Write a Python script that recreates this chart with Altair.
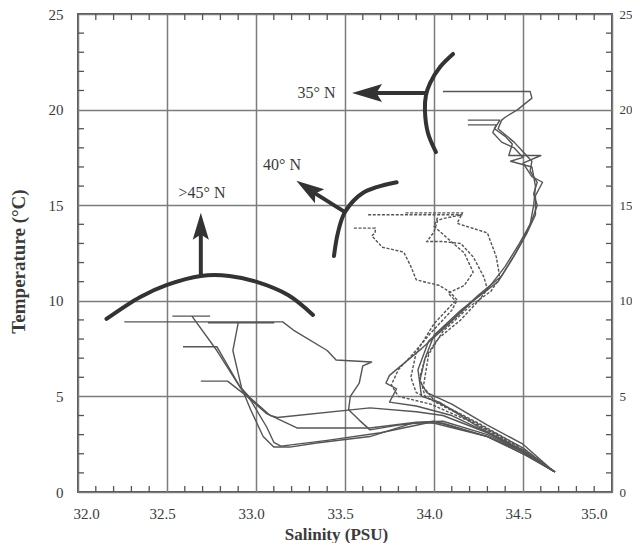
import altair as alt
import pandas as pd

SERIF = "Liberation Serif"
INK = "#3a3a3a"
LINE = "#555555"

# ---------------- axis values ----------------
x_major = [32.0, 32.5, 33.0, 33.5, 34.0, 34.5, 35.0]
y_major = [0, 5, 10, 15, 20, 25]
x_minor = [32.1, 32.2, 32.3, 32.4, 32.6, 32.7, 32.8, 32.9, 33.1, 33.2, 33.3, 33.4,
           33.6, 33.7, 33.8, 33.9, 34.1, 34.2, 34.3, 34.4, 34.6, 34.7, 34.8, 34.9]
y_minor = [1, 2, 3, 4, 6, 7, 8, 9, 11, 12, 13, 14, 16, 17, 18, 19, 21, 22, 23, 24]

# ---------------- T-S profiles (salinity, temperature) ----------------
# ~35 N
p1_s = [34.05, 34.54, 34.55, 34.47, 34.40, 34.38, 34.36, 34.45, 34.50, 34.55, 34.54, 34.58, 34.56, 34.58,
        34.55, 34.50, 34.44, 34.36, 34.22, 34.05, 33.93, 33.75, 33.73, 33.79, 33.75, 33.90, 34.10, 34.30, 34.50, 34.68]
p1_t = [20.95, 20.95, 20.6, 20.0, 19.6, 19.45, 19.0, 18.3, 17.8, 17.3, 16.8, 16.2, 15.6, 15.0,
        14.2, 13.2, 12.2, 11.0, 10.0, 8.5, 7.5, 6.1, 5.7, 5.4, 4.7, 4.5, 4.0, 3.1, 2.1, 1.05]
p2_s = [34.19, 34.37, 34.34, 34.40, 34.44, 34.42, 34.60, 34.50, 34.55, 34.61, 34.57, 34.57, 34.52, 34.46,
        34.38, 34.25, 34.10, 33.97, 33.91, 33.93, 34.03, 34.25, 34.45, 34.66]
p2_t = [19.45, 19.45, 19.0, 18.6, 18.2, 17.6, 17.6, 17.2, 16.5, 16.2, 15.5, 14.5, 13.5, 12.5,
        11.3, 10.3, 9.0, 7.9, 6.4, 5.0, 4.7, 3.4, 2.4, 1.15]
p3_s = [34.19, 34.35, 34.33, 34.38, 34.45, 34.50, 34.43, 34.55, 34.57, 34.56, 34.54, 34.48, 34.40, 34.30,
        34.15, 34.00, 33.95, 33.92, 33.96, 34.10, 34.30, 34.50, 34.67]
p3_t = [19.2, 19.2, 18.8, 18.3, 18.0, 17.5, 17.3, 17.0, 16.0, 15.0, 14.0, 13.0, 11.8, 10.6,
        9.5, 8.2, 7.0, 5.8, 5.2, 4.6, 3.5, 2.5, 1.1]
# ~40 N (dotted)
p4_s = [33.63, 34.16, 34.05, 34.02, 34.00, 33.96, 34.05, 34.15, 34.22, 34.28, 34.30, 34.25, 34.15, 34.02,
        33.95, 33.92, 33.95, 34.05, 34.30, 34.50, 34.68]
p4_t = [14.5, 14.5, 14.3, 14.2, 13.6, 13.1, 13.1, 13.0, 12.3, 11.25, 10.6, 10.0, 9.0, 8.0,
        7.0, 6.0, 5.0, 4.5, 3.3, 2.3, 1.05]
p5_s = [33.84, 34.16, 34.13, 34.30, 34.35, 34.37, 34.32, 34.20, 34.05, 33.97, 33.94, 34.00, 34.25, 34.50, 34.67]
p5_t = [14.6, 14.6, 14.05, 13.55, 12.3, 11.2, 10.5, 9.7, 8.4, 7.2, 5.5, 4.8, 3.6, 2.3, 1.1]
p6_s = [33.55, 33.67, 33.67, 33.65, 33.71, 33.83, 33.87, 33.90, 34.03, 34.09, 34.13, 34.10, 33.98, 33.88,
        33.80, 33.76, 33.80, 33.98, 34.20, 34.45, 34.66]
p6_t = [13.8, 13.8, 13.55, 13.4, 12.8, 12.55, 11.8, 11.1, 10.8, 10.46, 10.04, 9.5, 8.3, 7.2,
        6.4, 5.6, 5.0, 4.6, 3.7, 2.5, 1.15]
p7_s = [34.02, 34.00, 34.06, 34.17, 34.22, 34.17, 34.08, 34.12, 34.00, 33.90, 33.87, 33.90, 34.10, 34.35, 34.67]
p7_t = [14.35, 13.9, 13.4, 12.5, 11.5, 10.8, 10.4, 10.0, 8.8, 7.3, 6.0, 5.2, 4.3, 3.0, 1.1]
# >45 N
p8_s = [32.26, 33.15, 33.21, 33.40, 33.45, 33.65, 33.60, 33.58, 33.53, 33.52, 33.58, 33.64, 33.80, 34.00,
        34.30, 34.50, 34.68]
p8_t = [8.9, 8.9, 8.47, 7.4, 6.9, 6.8, 6.6, 5.7, 5.0, 4.3, 3.76, 3.25, 3.5, 3.7, 2.9, 2.1, 1.05]
p9_s = [32.53, 32.74, 32.64, 32.78, 32.93, 32.97, 33.04, 33.10, 33.19, 33.34, 33.64, 33.88, 34.05, 34.30,
        34.50, 34.68]
p9_t = [9.2, 9.2, 9.2, 7.4, 5.2, 4.3, 2.9, 2.35, 2.35, 2.56, 2.9, 3.6, 3.6, 2.9, 2.0, 1.05]
p10_s = [32.59, 32.78, 32.91, 32.97, 33.08, 33.12, 33.64, 33.90, 34.05, 34.30, 34.50, 34.67]
p10_t = [7.6, 7.6, 5.5, 4.9, 4.0, 3.9, 4.4, 4.2, 4.0, 3.1, 2.2, 1.1]
p11_s = [32.69, 32.84, 32.95, 33.06, 33.23, 33.64, 33.90, 34.05, 34.30, 34.50, 34.68]
p11_t = [5.8, 5.8, 5.0, 4.1, 3.35, 3.35, 3.65, 3.7, 3.0, 2.1, 1.05]
p12_s = [32.73, 33.10, 32.90, 32.87, 32.90, 32.92, 32.97, 33.06, 33.10, 33.14, 33.40, 33.70, 33.98, 34.30,
         34.50, 34.67]
p12_t = [8.85, 8.85, 8.85, 7.4, 6.2, 5.4, 4.8, 3.4, 2.6, 2.4, 2.7, 3.1, 3.65, 2.9, 2.0, 1.1]

profiles = [
    ("p1", p1_s, p1_t, "solid"), ("p2", p2_s, p2_t, "solid"), ("p3", p3_s, p3_t, "solid"),
    ("p4", p4_s, p4_t, "dot"), ("p5", p5_s, p5_t, "dot"), ("p6", p6_s, p6_t, "dot"),
    ("p7", p7_s, p7_t, "dot"),
    ("p8", p8_s, p8_t, "solid"), ("p9", p9_s, p9_t, "solid"), ("p10", p10_s, p10_t, "solid"),
    ("p11", p11_s, p11_t, "solid"), ("p12", p12_s, p12_t, "solid"),
]

# ---------------- annotation arcs / arrows / labels ----------------
arc45_s = [32.16, 32.35, 32.50, 32.69, 32.85, 33.00, 33.18, 33.32]
arc45_t = [9.05, 10.2, 10.83, 11.3, 11.3, 11.0, 10.3, 9.26]
arc40_s = [33.438, 33.46, 33.50, 33.60, 33.79]
arc40_t = [12.34, 13.55, 14.64, 15.64, 16.2]
arc35_s = [34.107, 34.034, 33.978, 33.955, 33.949, 33.966, 34.011]
arc35_t = [22.91, 22.23, 21.39, 20.76, 19.98, 18.78, 17.78]

shaft_name = ["a45", "a45", "a40", "a40", "a35", "a35"]
shaft_s = [32.69, 32.69, 33.50, 33.31, 33.952, 33.65]
shaft_t = [11.3, 13.5, 14.64, 15.75, 20.87, 20.87]

head_s = [32.69, 33.292, 33.624]
head_t = [13.9, 15.87, 20.87]
head_angle = [0, 303.7, 270]
head_size = [729, 784, 900]

label_text = [">45° N", "40° N", "35° N"]
label_s = [32.697, 33.146, 33.34]
label_t = [15.64, 17.10, 20.87]

# ---------------- build tables ----------------
rows = []
for name, s, t, style in profiles:
    for i, (a, b) in enumerate(zip(s, t)):
        rows.append({"prof": name, "i": i, "S": a, "T": b, "style": style})
prof_df = pd.DataFrame(rows)

arc_rows = []
for name, s, t in [("a45", arc45_s, arc45_t), ("a40", arc40_s, arc40_t), ("a35", arc35_s, arc35_t)]:
    for i, (a, b) in enumerate(zip(s, t)):
        arc_rows.append({"arc": name, "i": i, "S": a, "T": b})
arc_df = pd.DataFrame(arc_rows)
shaft_df = pd.DataFrame({"arr": shaft_name, "S": shaft_s, "T": shaft_t,
                         "i": list(range(len(shaft_s)))})
head_df = pd.DataFrame({"S": head_s, "T": head_t, "ang": head_angle, "sz": head_size})
label_df = pd.DataFrame({"txt": label_text, "S": label_s, "T": label_t})
xminor_df = pd.DataFrame({"S": x_minor})
yminor_df = pd.DataFrame({"T": y_minor})

W, H = 534, 478
xs = alt.Scale(domain=[32, 35], nice=False, zero=False)
ys = alt.Scale(domain=[0, 25], nice=False, zero=False)

GRID = "#7c7c7c"
x_axis = alt.Axis(values=x_major, format=".1f", grid=True, gridColor=GRID, gridWidth=1.5,
                  ticks=False, domain=False, labelFont=SERIF, labelFontSize=15, labelColor=INK,
                  labelPadding=14, labelOffset=-5, title="Salinity (PSU)", titleFont=SERIF,
                  titleFontSize=17, titleFontWeight="bold", titleColor=INK, titlePadding=5,
                  titleX=258)
y_axis = alt.Axis(values=y_major, format="d", grid=True, gridColor=GRID, gridWidth=1.5,
                  ticks=False, domain=False, labelFont=SERIF, labelFontSize=15, labelColor=INK,
                  labelPadding=15, title="Temperature (°C)", titleFont=SERIF, titleFontSize=19,
                  titleFontWeight="bold", titleColor=INK, titlePadding=20, titleY=247)
y_axis_r = alt.Axis(values=y_major, format="d", orient="right", grid=False, ticks=False,
                    domain=False, labelFont=SERIF, labelFontSize=13, labelColor=INK,
                    labelPadding=7, title=None)

solid = alt.Chart(prof_df).transform_filter(alt.datum.style == "solid").mark_line(
    color=LINE, strokeWidth=1.4, strokeJoin="round"
).encode(
    x=alt.X("S:Q", scale=xs, axis=x_axis),
    y=alt.Y("T:Q", scale=ys, axis=y_axis),
    detail="prof:N",
    order="i:Q",
)
dotted = alt.Chart(prof_df).transform_filter(alt.datum.style == "dot").mark_line(
    color=LINE, strokeWidth=1.4, strokeDash=[3, 1.6]
).encode(
    x=alt.X("S:Q", scale=xs, axis=None),
    y=alt.Y("T:Q", scale=ys, axis=None),
    detail="prof:N",
    order="i:Q",
)

arcs = alt.Chart(arc_df).mark_line(
    color="#333333", strokeWidth=4, interpolate="catmull-rom", strokeCap="round"
).encode(
    x=alt.X("S:Q", scale=xs, axis=None),
    y=alt.Y("T:Q", scale=ys, axis=None),
    detail="arc:N",
    order="i:Q",
)
shafts = alt.Chart(shaft_df).mark_line(color="#333333", strokeWidth=4).encode(
    x=alt.X("S:Q", scale=xs, axis=None),
    y=alt.Y("T:Q", scale=ys, axis=None),
    detail="arr:N",
    order="i:Q",
)
heads = alt.Chart(head_df).mark_point(
    shape="M0,-1L0.6,1L0,0.62L-0.6,1Z", filled=True, color="#333333", opacity=1
).encode(
    x=alt.X("S:Q", scale=xs, axis=None),
    y=alt.Y("T:Q", scale=ys, axis=None),
    angle=alt.Angle("ang:Q", scale=None),
    size=alt.Size("sz:Q", scale=None),
)
labels = alt.Chart(label_df).mark_text(
    font=SERIF, fontSize=16, color=INK, align="center", baseline="middle"
).encode(
    x=alt.X("S:Q", scale=xs, axis=None),
    y=alt.Y("T:Q", scale=ys, axis=None),
    text="txt:N",
)

tick_style = dict(color="#555555", strokeWidth=1.3)
ticks_bottom = alt.Chart(xminor_df).mark_rule(**tick_style).encode(
    x=alt.X("S:Q", scale=xs, axis=None), y=alt.value(H), y2=alt.value(H - 6))
ticks_top = alt.Chart(xminor_df).mark_rule(**tick_style).encode(
    x=alt.X("S:Q", scale=xs, axis=None), y=alt.value(0), y2=alt.value(6))
ticks_left = alt.Chart(yminor_df).mark_rule(**tick_style).encode(
    y=alt.Y("T:Q", scale=ys, axis=None), x=alt.value(0), x2=alt.value(6))
ticks_right = alt.Chart(yminor_df).mark_rule(**tick_style).encode(
    y=alt.Y("T:Q", scale=ys, axis=y_axis_r), x=alt.value(W), x2=alt.value(W - 6))

chart = alt.layer(
    solid, dotted, ticks_bottom, ticks_top, ticks_left, ticks_right, arcs, shafts, heads, labels
).resolve_axis(x="independent", y="independent").properties(
    width=W, height=H,
    autosize=alt.AutoSizeParams(type="none"),
    padding={"left": 70, "top": 6, "right": 20, "bottom": 51},
    background="white",
).configure_view(stroke="#555555", strokeWidth=2)

chart.save("out.html", embed_options={"renderer": "svg", "actions": False})
